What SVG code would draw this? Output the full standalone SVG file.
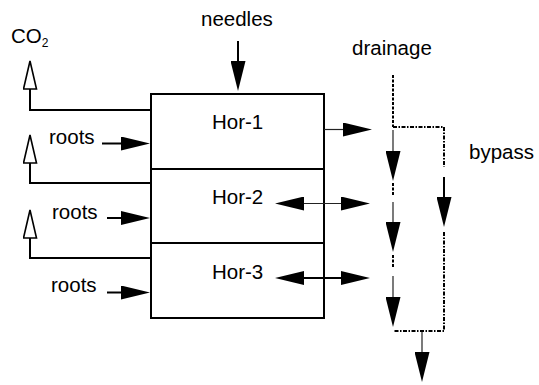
<svg xmlns="http://www.w3.org/2000/svg" width="539" height="385" viewBox="0 0 539 385">
<style>
text{font-family:"Liberation Sans",Arial,sans-serif;font-size:20.5px;fill:#000}
.box{fill:#fff;stroke:#000;stroke-width:2}
.thick{stroke:#000;stroke-width:2;fill:none}
.thin{stroke:#222;stroke-width:1.2;fill:none}
.dot{stroke:#000;stroke-width:2;fill:none;stroke-dasharray:3 1.5}
.dashdot{stroke:#000;stroke-width:2;fill:none;stroke-dasharray:4 1.5 1.5 1.5}
</style>
<defs>
<marker id="head" viewBox="0 0 29 14" markerWidth="29" markerHeight="14" markerUnits="userSpaceOnUse" refX="0" refY="7" orient="auto-start-reverse">
<path d="M0,0 L29,7 L0,14 Z" fill="#000"/>
</marker>
<marker id="vhead" viewBox="0 0 30 15" markerWidth="30" markerHeight="15" markerUnits="userSpaceOnUse" refX="0" refY="7.5" orient="auto">
<path d="M0,0 L30,7.5 L0,15 Z" fill="#000"/>
</marker>
<marker id="hollow" viewBox="-1 -1 30 15" markerWidth="30" markerHeight="15" markerUnits="userSpaceOnUse" refX="0" refY="6.5" orient="auto">
<path d="M0,0 L28,6.5 L0,13 Z" fill="#fff" stroke="#000" stroke-width="1.6"/>
</marker>
</defs>

<g id="hor-1">
<rect class="box" x="151" y="94" width="173" height="75"/>
<text x="212" y="129">Hor-1</text>
</g>
<g id="hor-2">
<rect class="box" x="151" y="169" width="173" height="74"/>
<text x="212" y="204">Hor-2</text>
</g>
<g id="hor-3">
<rect class="box" x="151" y="243" width="173" height="75"/>
<text x="212" y="279">Hor-3</text>
</g>

<g id="labels">
<text x="11" y="43">CO<tspan font-size="12" dy="4">2</tspan></text>
<text x="201" y="26">needles</text>
<text x="352" y="55">drainage</text>
<text x="469" y="159">bypass</text>
<text x="49" y="144">roots</text>
<text x="52" y="219">roots</text>
<text x="51" y="292">roots</text>
</g>

<g id="connectors">
<path class="thick" d="M151,110 H30 V89" marker-end="url(#hollow)"/>
<path class="thick" d="M151,183 H30 V163" marker-end="url(#hollow)"/>
<path class="thick" d="M151,258 H30 V238" marker-end="url(#hollow)"/>

<path class="thick" d="M102,143.5 H121" marker-end="url(#head)"/>
<path class="thick" d="M107,218 H121" marker-end="url(#head)"/>
<path class="thick" d="M107,292.5 H121" marker-end="url(#head)"/>

<path class="thick" d="M238,41 V61" marker-end="url(#vhead)"/>

<path class="thin" d="M324,129.5 H343" marker-end="url(#head)"/>
<path class="thin" d="M304,203.5 H341" marker-start="url(#head)" marker-end="url(#head)"/>
<path class="thick" d="M304,278 H341" marker-start="url(#head)" marker-end="url(#head)"/>

<path class="dot" d="M393,75 V127"/>
<path class="dashdot" d="M393,127 H444 V167"/>
<path class="thin" d="M393,130 V151" marker-end="url(#vhead)"/>
<path class="dot" d="M393,183 V196"/>
<path class="thin" d="M393,202 V222" marker-end="url(#vhead)"/>
<path class="dot" d="M393,255 V267"/>
<path class="thin" d="M393,276 V297" marker-end="url(#vhead)"/>
<path class="thick" d="M444,177 V197" marker-end="url(#vhead)"/>
<path class="dashdot" d="M444,232 V331 H393"/>
<path class="thin" d="M422,332 V352" marker-end="url(#vhead)"/>
</g>
</svg>
